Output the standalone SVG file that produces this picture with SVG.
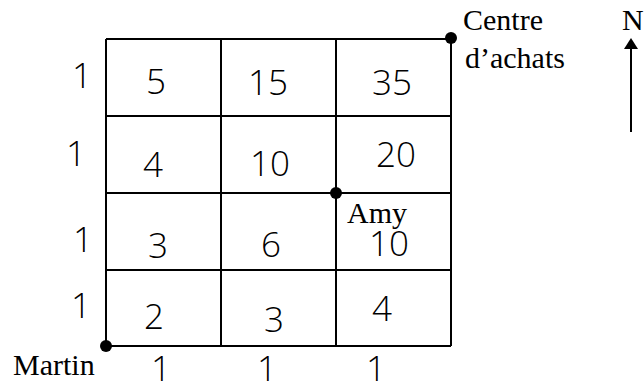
<svg xmlns="http://www.w3.org/2000/svg" width="644" height="385" viewBox="0 0 644 385">
<style>
.grid line{stroke:#000;stroke-width:2;}
.dig{font-family:"Open Sans","Liberation Sans",Arial,sans-serif;font-weight:300;font-size:35px;fill:#000;text-anchor:middle;}
.lbl{font-family:"Liberation Serif","Times New Roman",serif;font-size:30px;fill:#000;}
.dot{fill:#000;}
</style>
<rect width="644" height="385" fill="#fff"/>
<g id="connectors" class="grid">
<line x1="106" y1="39" x2="451" y2="39"/>
<line x1="106" y1="116" x2="451" y2="116"/>
<line x1="106" y1="193" x2="451" y2="193"/>
<line x1="106" y1="270" x2="451" y2="270"/>
<line x1="106" y1="346" x2="451" y2="346"/>
<line x1="106" y1="39" x2="106" y2="346"/>
<line x1="221" y1="39" x2="221" y2="346"/>
<line x1="336" y1="39" x2="336" y2="346"/>
<line x1="451" y1="39" x2="451" y2="346"/>
</g>
<g id="north">
<line x1="631" y1="132" x2="631" y2="46" stroke="#000" stroke-width="2"/>
<polygon points="631,38 624,49 638,49" fill="#000"/>
<text class="lbl" x="622" y="30">N</text>
</g>
<g id="cells">
<text class="dig" x="156" y="94">5</text>
<text class="dig" x="268" y="95">15</text>
<text class="dig" x="392" y="95">35</text>
<text class="dig" x="153" y="177">4</text>
<text class="dig" x="270" y="176">10</text>
<text class="dig" x="396" y="167">20</text>
<text class="dig" x="158" y="258">3</text>
<text class="dig" x="271" y="257">6</text>
<text class="dig" x="389" y="256">10</text>
<text class="dig" x="154" y="329">2</text>
<text class="dig" x="274" y="332">3</text>
<text class="dig" x="382" y="321">4</text>
</g>
<g id="row-costs">
<text class="dig" x="82" y="88">1</text>
<text class="dig" x="76" y="166">1</text>
<text class="dig" x="83" y="252">1</text>
<text class="dig" x="81" y="318">1</text>
</g>
<g id="col-costs">
<text class="dig" x="161" y="381">1</text>
<text class="dig" x="267" y="381">1</text>
<text class="dig" x="376" y="381">1</text>
</g>
<g id="martin">
<circle class="dot" cx="106" cy="346" r="6"/>
<text class="lbl" x="13" y="375">Martin</text>
</g>
<g id="amy">
<circle class="dot" cx="336" cy="193" r="6"/>
<text class="lbl" x="347" y="223">Amy</text>
</g>
<g id="centre">
<circle class="dot" cx="451" cy="38" r="6"/>
<text class="lbl" x="463" y="30">Centre</text>
<text class="lbl" x="465" y="68">d’achats</text>
</g>
</svg>
